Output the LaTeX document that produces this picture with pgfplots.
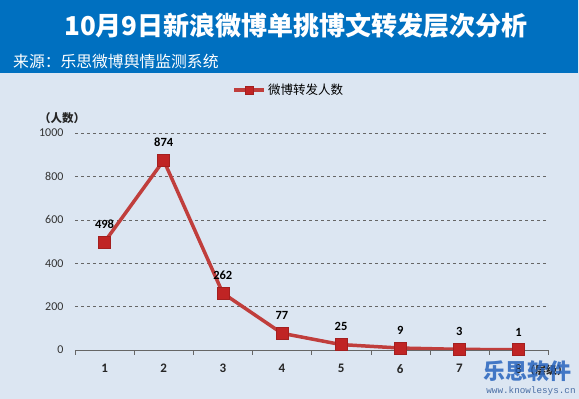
\documentclass[border=0pt]{standalone}
\usepackage{pgfplots}
\pgfplotsset{compat=1.18}
\usepackage{fontspec}
\setmainfont{Carlito}
\newfontfamily\cjk{Noto Sans CJK SC}
\newfontfamily\monofont{Liberation Mono}
\definecolor{hdr}{RGB}{0,112,192}
\definecolor{bgc}{RGB}{220,230,242}
\definecolor{lred}{RGB}{192,62,60}
\definecolor{mred}{RGB}{192,36,36}
\definecolor{wm}{RGB}{40,100,190}
\begin{document}
\begin{tikzpicture}
\fill[bgc] (0pt,0pt) rectangle (579pt,399pt);
\fill[hdr] (0pt,326pt) rectangle (578pt,399pt);
\node[text=white, font=\cjk\bfseries\fontsize{26}{26}\selectfont] at (296pt,373pt) {10月9日新浪微博单挑博文转发层次分析};
\node[text=white, anchor=west, font=\cjk\fontsize{15.8}{15.8}\selectfont, inner sep=0pt] at (13pt,338pt) {来源：乐思微博舆情监测系统};
\begin{axis}[
  at={(75pt,49pt)}, anchor=south west,
  scale only axis, width=473pt, height=217pt,
  xmin=0.5, xmax=8.5, ymin=0, ymax=1000,
  xtick={1,...,8},
  minor xtick={0.5,1.5,...,8.5},
  ytick={0,200,...,1000},
  tick align=outside,
  major tick length=0pt,
  minor tick length=5pt,
  minor tick style={draw=gray!80!black},
  axis lines*=left,
  x axis line style={draw=gray!80!black},
  y axis line style={draw=none},
  ymajorgrids,
  major grid style={dashed, gray!80!black, line width=0.4pt},
  yticklabel style={font=\fontsize{12}{12}\selectfont, text=black!80, xshift=-8pt},
  xticklabel style={font=\bfseries\fontsize{13}{13}\selectfont, text=black!85, yshift=-13pt, inner sep=1pt},
  scaled y ticks=false,
  /pgf/number format/assume math mode=true,
  /pgf/number format/1000 sep={},
  legend style={at={(0.452,1.198)}, anchor=center, draw=none, fill=none,
    font=\cjk\fontsize{12.5}{12.5}\selectfont},
  legend image code/.code={\draw[#1, mark size=4pt, mark repeat=2, mark phase=2] plot coordinates {(0pt,0pt) (15pt,0pt) (30pt,0pt)};},
  nodes near coords,
  every node near coord/.append style={font=\bfseries\fontsize{12.5}{12.5}\selectfont, text=black, yshift=10pt},
]
\addplot[color=lred, line width=3.5pt, mark=square*, mark size=6pt,
  mark options={fill=mred, draw=mred!85!black, line width=0.6pt}]
  coordinates {(1,498) (2,874) (3,262) (4,77) (5,25) (6,9) (7,3) (8,1)};
\addlegendentry{微博转发人数}
\end{axis}
\node[font=\cjk\bfseries\fontsize{11.5}{11.5}\selectfont, text=black!85] at (62pt,281pt) {（人数）};
\node[anchor=west, font=\cjk\bfseries\fontsize{11}{11}\selectfont, text=black!85, inner sep=0pt] at (524pt,29pt) {（层级）};
\node[font=\cjk\bfseries\fontsize{22}{22}\selectfont, text=wm, opacity=0.85] at (527pt,28pt) {乐思软件};
\node[font=\monofont\fontsize{9.3}{9.3}\selectfont, text=wm!60!gray, inner sep=0pt] at (531pt,8pt) {www.knowlesys.cn};
\pgfresetboundingbox
\useasboundingbox (0pt,0pt) rectangle (579pt,399pt);
\end{tikzpicture}
\end{document}
